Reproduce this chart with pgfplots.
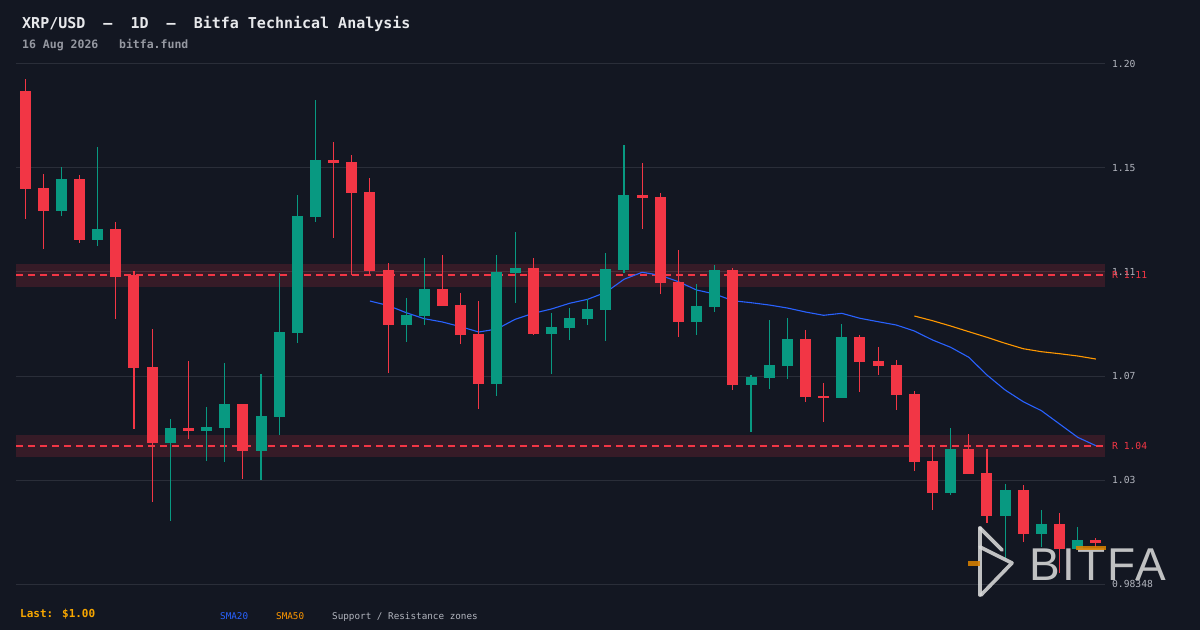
\documentclass[border=0pt]{standalone}
\usepackage{pgfplots}
\pgfplotsset{compat=1.18}
\usepackage{pgfplotstable}
\usepackage{fontspec}
\setmainfont{DejaVu Sans Mono}
\newfontfamily\mono{DejaVu Sans Mono}
\newfontfamily\logofont{Liberation Sans}[LetterSpace=5]
\definecolor{bgc}{HTML}{131722}
\definecolor{gridc}{HTML}{2A2E39}
\definecolor{upc}{HTML}{089981}
\definecolor{dnc}{HTML}{F23645}
\definecolor{bluec}{HTML}{2962FF}
\definecolor{orangec}{HTML}{FF9800}
\definecolor{lastc}{HTML}{F7A600}
\definecolor{tickc}{HTML}{B2B5BE}
\definecolor{titlec}{HTML}{E8E9EC}
\definecolor{subc}{HTML}{9598A1}
\definecolor{logoc}{HTML}{D9D9D9}

% green candles: x open high low close
\pgfplotstableread{
x o h l c
2 1.13639 1.15429 1.13434 1.14937
4 1.12451 1.16248 1.12205 1.12889
8 1.04136 1.05107 1.00941 1.04738
10 1.04627 1.05598 1.03399 1.04779
11 1.04750 1.07400 1.03358 1.05721
13 1.03808 1.06950 1.02620 1.05230
14 1.05201 1.11087 1.04464 1.08670
15 1.08642 1.14282 1.08232 1.13422
16 1.13393 1.18173 1.13188 1.15716
21 1.08969 1.10063 1.08273 1.09367
22 1.09338 1.11701 1.08969 1.10432
26 1.06553 1.11824 1.06061 1.11128
27 1.11099 1.12766 1.09871 1.11292
29 1.08601 1.09449 1.06962 1.08875
30 1.08846 1.09653 1.08355 1.09244
31 1.09215 1.10034 1.08969 1.09612
32 1.09584 1.11906 1.08314 1.11251
33 1.11222 1.16330 1.11099 1.14282
37 1.09092 1.10636 1.08560 1.09735
38 1.09707 1.11415 1.09502 1.11210
40 1.06512 1.06909 1.04586 1.06827
41 1.06798 1.09162 1.06348 1.07319
42 1.07290 1.09244 1.06757 1.08384
45 1.05979 1.08998 1.05979 1.08466
51 1.02088 1.04738 1.02006 1.03878
54 1.01146 1.02444 0.99360 1.02198
56 1.00408 1.01379 0.99876 1.00806
58 0.99794 1.00683 0.99741 1.00150
}\upT

% red candles: x open high low close
\pgfplotstableread{
x o h l c
0 1.18542 1.19034 1.13311 1.14540
1 1.14569 1.15142 1.12082 1.13639
3 1.14937 1.15101 1.12328 1.12451
5 1.12889 1.13176 1.09215 1.10936
6 1.11005 1.11169 1.04709 1.07208
7 1.07237 1.08793 1.01719 1.04136
9 1.04738 1.07482 1.04300 1.04627
12 1.05721 1.05721 1.02661 1.03808
17 1.15716 1.16453 1.12533 1.15605
18 1.15634 1.15920 1.11005 1.14376
19 1.14405 1.14978 1.11005 1.11181
20 1.11210 1.11497 1.07003 1.08969
23 1.10432 1.11824 1.09748 1.09748
24 1.09776 1.10268 1.08191 1.08560
25 1.08601 1.09940 1.05529 1.06553
28 1.11292 1.11701 1.08560 1.08601
34 1.14282 1.15593 1.12902 1.14171
35 1.14200 1.14364 1.10239 1.10690
36 1.10718 1.12029 1.08478 1.09092
39 1.11210 1.11292 1.06307 1.06512
43 1.08384 1.08752 1.05815 1.06020
44 1.06049 1.06581 1.04996 1.05979
46 1.08466 1.08547 1.06225 1.07454
47 1.07482 1.08056 1.06921 1.07290
48 1.07319 1.07523 1.05488 1.06102
49 1.06131 1.06254 1.02989 1.03358
50 1.03386 1.03972 1.01391 1.02088
52 1.03878 1.04492 1.02866 1.02866
53 1.02895 1.03878 1.00859 1.01146
55 1.02198 1.02403 1.00081 1.00408
57 1.00806 1.01256 0.98811 0.99794
59 1.00150 1.00232 0.99876 1.00040
}\dnT

\begin{document}
\begin{tikzpicture}[x=1pt,y=1pt]
\fill[bgc] (0,0) rectangle (1200,630);
\begin{axis}[
  at={(16pt,46pt)}, anchor=south west,
  scale only axis, width=1089pt, height=520pt,
  xmin=-0.5, xmax=59.5, ymin=0.98348, ymax=1.19648,
  axis line style={draw=none},
  xtick=\empty,
  ytick={0.98348,1.02608,1.06868,1.11128,1.15388,1.19648},
  yticklabels={0.98348,1.03,1.07,1.11,1.15,1.20},
  yticklabel pos=right,
  major tick length=0pt,
  ymajorgrids,
  grid style={draw=gridc, line width=1pt},
  yticklabel style={font=\mono\fontsize{9.7}{11}\selectfont, text=tickc, anchor=west, inner sep=0pt, xshift=7pt},
  clip=false,
]
% support / resistance zones
\fill[dnc, opacity=0.16] (axis cs:-0.5,1.1053) rectangle (axis cs:59.5,1.1147);
\fill[dnc, opacity=0.16] (axis cs:-0.5,1.0356) rectangle (axis cs:59.5,1.0444);
\draw[dnc, line width=1.3pt, dash pattern=on 7pt off 5pt] (axis cs:-0.5,1.1100) -- (axis cs:59.5,1.1100);
\draw[dnc, line width=1.3pt, dash pattern=on 7pt off 5pt] (axis cs:-0.5,1.0400) -- (axis cs:59.5,1.0400);
\node[anchor=west, inner sep=0pt, text=dnc, font=\mono\fontsize{9.7}{11}\selectfont] at ([xshift=7pt]axis cs:59.5,1.1100) {R 1.11};
\node[anchor=west, inner sep=0pt, text=dnc, font=\mono\fontsize{9.7}{11}\selectfont] at ([xshift=7pt]axis cs:59.5,1.0400) {R 1.04};

% SMA20
\addplot[bluec, line width=1.1pt, mark=none] coordinates {
(19,1.09940) (20,1.09756) (21,1.09461) (22,1.09215) (23,1.09080) (24,1.08887)
(25,1.08670) (26,1.08793) (27,1.09190) (28,1.09436) (29,1.09612) (30,1.09846)
(31,1.10010) (32,1.10296) (33,1.10829) (34,1.11116) (35,1.10993) (36,1.10731)
(37,1.10391) (38,1.10227) (39,1.09952) (40,1.09871) (41,1.09776) (42,1.09653)
(43,1.09490) (44,1.09354) (45,1.09436) (46,1.09232) (47,1.09092) (48,1.08957)
(49,1.08711) (50,1.08343) (51,1.08044) (52,1.07634) (53,1.06909) (54,1.06295)
(55,1.05815) (56,1.05447) (57,1.04902) (58,1.04357) (59,1.04013)};
% SMA50
\addplot[orangec, line width=1.1pt, mark=none] coordinates {
(49,1.09326) (50,1.09133) (51,1.08916) (52,1.08683) (53,1.08453) (54,1.08208)
(55,1.07986) (56,1.07863) (57,1.07781) (58,1.07687) (59,1.07564)};

% wicks
\addplot[draw=none, mark=none, error bars/.cd, y dir=plus, y explicit, error mark=none,
  error bar style={draw=upc, line width=1.1pt}]
  table[x=x, y=l, y error plus expr=\thisrow{h}-\thisrow{l}] {\upT};
\addplot[draw=none, mark=none, error bars/.cd, y dir=plus, y explicit, error mark=none,
  error bar style={draw=dnc, line width=1.1pt}]
  table[x=x, y=l, y error plus expr=\thisrow{h}-\thisrow{l}] {\dnT};
% bodies
\addplot[draw=none, mark=none, error bars/.cd, y dir=plus, y explicit, error mark=none,
  error bar style={draw=upc, line width=11pt}]
  table[x=x, y=o, y error plus expr=\thisrow{c}-\thisrow{o}] {\upT};
\addplot[draw=none, mark=none, error bars/.cd, y dir=plus, y explicit, error mark=none,
  error bar style={draw=dnc, line width=11pt}]
  table[x=x, y=c, y error plus expr=\thisrow{o}-\thisrow{c}] {\dnT};
\end{axis}

% titles
\node[anchor=base west, inner sep=0pt, text=titlec, font=\mono\bfseries\fontsize{15}{18}\selectfont] at (22,601) {XRP/USD\ \ –\ \ 1D\ \ –\ \ Bitfa Technical Analysis};
\node[anchor=base west, inner sep=0pt, text=subc, font=\mono\bfseries\fontsize{11.5}{14}\selectfont] at (22,581) {16 Aug 2026\ \ \ bitfa.fund};

% footer
\node[anchor=base west, inner sep=0pt, text=lastc, font=\mono\bfseries\fontsize{11}{13}\selectfont] at (20,13) {Last: \$1.00};
\node[anchor=base west, inner sep=0pt, text=bluec, font=\mono\fontsize{9.3}{11}\selectfont] at (220,11) {SMA20};
\node[anchor=base west, inner sep=0pt, text=orangec, font=\mono\fontsize{9.3}{11}\selectfont] at (276,11) {SMA50};
\node[anchor=base west, inner sep=0pt, text=tickc, font=\mono\fontsize{9.3}{11}\selectfont] at (332,11) {Support / Resistance zones};

% watermark logo
\begin{scope}[opacity=0.88]
\draw[logoc, line width=3.6pt, line cap=round, line join=round] (980,102) -- (980,35);
\draw[logoc, line width=3.6pt, line cap=round, line join=round] (980,102) -- (1002,80);
\draw[logoc, line width=3.6pt, line cap=round, line join=round] (980,83) -- (1012,67) -- (981,35);
\fill[orangec!85!black] (968,64) rectangle (980,69);
\node[anchor=base west, inner sep=0pt, text=logoc, font=\logofont\fontsize{46}{50}\selectfont] at (1029,50) {BITFA};
\fill[orangec!85!black] (1076,80) rectangle (1106,84.5);
\end{scope}
\pgfresetboundingbox
\path[use as bounding box] (0,0) rectangle (1200,630);
\end{tikzpicture}
\end{document}
